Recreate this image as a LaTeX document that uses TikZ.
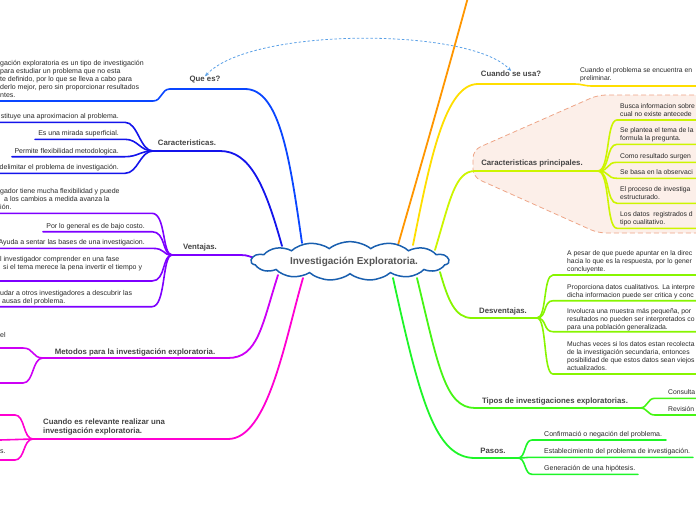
\documentclass[tikz,border=0pt]{standalone}
\usepackage{fontspec}
\setmainfont{Liberation Sans}
\usetikzlibrary{shapes.symbols,arrows.meta}

\definecolor{queblue}{RGB}{10,70,255}
\definecolor{carblue}{RGB}{20,20,235}
\definecolor{venpurple}{RGB}{125,0,255}
\definecolor{metmagenta}{RGB}{205,0,245}
\definecolor{relpink}{RGB}{255,0,210}
\definecolor{orangeline}{RGB}{255,150,0}
\definecolor{useyellow}{RGB}{255,222,0}
\definecolor{prinlime}{RGB}{205,245,0}
\definecolor{deslime}{RGB}{135,245,0}
\definecolor{tipgreen}{RGB}{70,245,20}
\definecolor{pasgreen}{RGB}{30,245,40}
\definecolor{relblue}{RGB}{90,160,230}
\definecolor{cloudblue}{RGB}{25,95,175}
\definecolor{regionfill}{RGB}{252,239,233}
\definecolor{regionline}{RGB}{238,165,135}
\definecolor{leafgray}{RGB}{40,40,40}
\definecolor{labelgray}{RGB}{68,68,68}
\definecolor{titlegray}{RGB}{85,85,85}

\begin{document}
\begin{tikzpicture}[
    x=1pt, y=-1pt,
    branch/.style={
        line width=1.8pt,
        line cap=round
    },
    twig/.style={
        line width=1.6pt,
        line cap=round
    },
    topic/.style={
        font=\fontsize{7.8}{9}\selectfont\bfseries,
        text=labelgray,
        inner sep=0pt,
        align=left
    },
    leaf/.style={
        font=\fontsize{7}{8}\selectfont,
        text=leafgray,
        inner sep=0pt,
        text depth=0pt,
        align=left
    },
    edgeleaf/.style={
        leaf,
        font=\fontsize{6.8}{8}\selectfont
    },
    relation/.style={
        <->,
        >={Stealth[length=4pt,width=3.5pt]},
        draw=relblue,
        line width=0.8pt,
        dash pattern=on 2.5pt off 2pt
    },
    region/.style={
        draw=regionline,
        fill=regionfill,
        line width=0.8pt,
        dash pattern=on 5pt off 3pt,
        rounded corners=8pt
    }
]

% Canvas
\useasboundingbox (0,0) rectangle (696,520);
\clip (0,0) rectangle (696,520);

% Highlight behind the main features
\draw[region] (710,95) -- (598,95) -- (473,150) -- (473,177) -- (598,233) -- (710,233);

% Start points on the cloud and junctions
\coordinate (queS) at (302,243);
\coordinate (queJ) at (170,89);
\coordinate (carS) at (282,246);
\coordinate (carJ) at (153,151);
\coordinate (venS) at (254,258);
\coordinate (venJ) at (172,255);
\coordinate (metS) at (278,275);
\coordinate (metJ) at (43,358);
\coordinate (relS) at (303,278);
\coordinate (relJ) at (33,439);
\coordinate (oraS) at (398,245);
\coordinate (oraE) at (470,-10);
\coordinate (usaS) at (413,245);
\coordinate (usaJ) at (575,84);
\coordinate (prinS) at (435,250);
\coordinate (prinJ) at (598,171);
\coordinate (desS) at (440,272);
\coordinate (desJ) at (537,318);
\coordinate (tipS) at (417,278);
\coordinate (tipJ) at (640,408);
\coordinate (pasS) at (393,278);
\coordinate (pasJ) at (518,458);

% Topics
\node[topic] (queEs) at (205,80) {Que es?};
\node[topic] (caract) at (187,143) {Caracteristicas.};
\node[topic] (ventajas) at (200,247) {Ventajas.};
\node[topic] (metodos) at (135,352) {Metodos para la investigación exploratoria.};
\node[topic, anchor=west] (relevante) at (43,427) {Cuando es relevante realizar una\\investigación exploratoria.};
\node[topic] (cuandoUsa) at (511,74) {Cuando se usa?};
\node[topic] (caractPrin) at (532,163) {Caracteristicas principales.};
\node[topic] (desventajas) at (503,311) {Desventajas.};
\node[topic] (tipos) at (555,401) {Tipos de investigaciones exploratorias.};
\node[topic] (pasos) at (493,451) {Pasos.};

% Que es?
\draw[branch, queblue] (queS) .. controls (290,160) and (280,89) .. (245,89) -- (queJ);
\draw[twig, queblue] (queJ) .. controls (161,89) and (162,101) .. (153,101) -- (0,101);
\node[leaf, anchor=south west] (queTxt) at (0,97.5) {gación exploratoria es un tipo de investigación\\para estudiar un problema que no esta\\te definido, por lo que se lleva a cabo para\\derlo mejor, pero sin proporcionar resultados\\ntes.};

% Caracteristicas
\draw[branch, carblue] (carS) .. controls (265,185) and (250,151) .. (220,151) -- (carJ);
\draw[twig, carblue] (carJ) .. controls (140,151) and (138,122.3) .. (125,122.3) -- (0,122.3);
\draw[twig, carblue] (carJ) .. controls (140,151) and (138,139.3) .. (125,139.3) -- (35,139.3);
\draw[twig, carblue] (carJ) .. controls (140,151) and (138,156.7) .. (125,156.7) -- (12,156.7);
\draw[twig, carblue] (carJ) .. controls (140,151) and (138,173.3) .. (125,173.3) -- (0,173.3);
\node[leaf, anchor=south east] (car1) at (119,118.8) {stituye una aproximacion al problema.};
\node[leaf, anchor=south east] (car2) at (119,135.8) {Es una mirada superficial.};
\node[leaf, anchor=south east] (car3) at (119,153.2) {Permite flexibilidad metodologica.};
\node[leaf, anchor=south east] (car4) at (119,169.8) {delimitar el problema de investigación.};

% Ventajas
\draw[branch, venpurple] (venS) .. controls (246,255) .. (235,255) -- (venJ);
\draw[twig, venpurple] (venJ) .. controls (162,255) and (166,213.3) .. (152,213.3) -- (0,213.3);
\draw[twig, venpurple] (venJ) .. controls (162,255) and (166,231.7) .. (152,231.7) -- (43,231.7);
\draw[twig, venpurple] (venJ) .. controls (162,255) and (166,248.3) .. (152,248.3) -- (0,248.3);
\draw[twig, venpurple] (venJ) .. controls (162,255) and (166,281) .. (152,281) -- (0,281);
\draw[twig, venpurple] (venJ) .. controls (162,255) and (166,306.7) .. (152,306.7) -- (0,306.7);
\node[leaf, anchor=south west] (ven1) at (0,209.8) {gador tiene mucha flexibilidad y puede\\\hspace*{4pt}a los cambios a medida avanza la\\ión.};
\node[leaf, anchor=south east] (ven2) at (145,228.2) {Por lo general es de bajo costo.};
\node[leaf, anchor=south east] (ven3) at (145,244.8) {Ayuda a sentar las bases de una investigacion.};
\node[leaf, anchor=south west] (ven4) at (0,270) {l investigador comprender en una fase\\\hspace*{3pt}si el tema merece la pena invertir el tiempo y};
\node[leaf, anchor=south west] (ven5) at (0,303.2) {udar a otros investigadores a descubrir las\\\hspace*{2pt}ausas del problema.};

% Metodos
\draw[branch, metmagenta] (metS) .. controls (262,325) and (258,358) .. (228,358) -- (metJ);
\draw[twig, metmagenta] (metJ) .. controls (32,358) and (34,348) .. (23,348) -- (0,348);
\draw[twig, metmagenta] (metJ) .. controls (32,358) and (34,383) .. (23,383) -- (0,383);
\node[leaf, anchor=base west] (met1) at (0,337.5) {el};

% Cuando es relevante
\draw[branch, relpink] (relS) .. controls (285,340) and (268,439) .. (228,439) -- (relJ);
\draw[twig, relpink] (relJ) .. controls (23,439) and (25,415) .. (15,415) -- (0,415);
\draw[twig, relpink] (relJ) -- (0,440);
\draw[twig, relpink] (relJ) .. controls (23,439) and (25,460) .. (15,460) -- (0,460);
\node[leaf, anchor=base west] (rel3) at (0,453.5) {s.};

% Orange branch leaving the view
\draw[branch, orangeline] (oraS) .. controls (418,175) and (440,100) .. (oraE);

% Cuando se usa?
\draw[branch, useyellow] (usaS) .. controls (430,160) and (445,84) .. (478,84) -- (usaJ);
\draw[twig, useyellow] (usaJ) .. controls (582,84) and (584,86) .. (592,86) -- (700,86);
\node[edgeleaf, anchor=south west] (usa1) at (580,81) {Cuando el problema se encuentra en\\preliminar.};

% Caracteristicas principales
\draw[branch, prinlime] (prinS) .. controls (450,200) and (455,171) .. (475,171) -- (prinJ);
\foreach \uy in {120,144.3,162.3,178.3,203.3,228.3}
    \draw[twig, prinlime] (prinJ) .. controls (610,171) and (606,\uy) .. (617,\uy) -- (700,\uy);
\node[edgeleaf, anchor=south west] (prin1) at (620,116.5) {Busca informacion sobre\\cual no existe antecede};
\node[edgeleaf, anchor=south west] (prin2) at (620,140.8) {Se plantea el tema de la\\formula la pregunta.};
\node[edgeleaf, anchor=south west] (prin3) at (620,158.8) {Como resultado surgen};
\node[edgeleaf, anchor=south west] (prin4) at (620,174.8) {Se basa en la observaci};
\node[edgeleaf, anchor=south west] (prin5) at (620,199.8) {El proceso de investiga\\estructurado.};
\node[edgeleaf, anchor=south west] (prin6) at (620,224.8) {Los datos\ \ registrados d\\tipo cualitativo.};

% Desventajas
\draw[branch, deslime] (desS) .. controls (448,300) and (455,318) .. (472,318) -- (desJ);
\foreach \uy in {275,300.7,331.7,374}
    \draw[twig, deslime] (desJ) .. controls (547,318) and (543,\uy) .. (553,\uy) -- (700,\uy);
\node[edgeleaf, anchor=south west] (des1) at (567,271.5) {A pesar de que puede apuntar en la direc\\hacia lo que es la respuesta, por lo gener\\concluyente.};
\node[edgeleaf, anchor=south west] (des2) at (567,297.2) {Proporciona datos cualitativos. La interpre\\dicha informacion puede ser critica y conc};
\node[edgeleaf, anchor=south west] (des3) at (567,329.5) {Involucra una muestra más pequeña, por\\resultados no pueden ser interpretados co\\para una población generalizada.};
\node[edgeleaf, anchor=south west] (des4) at (567,371) {Muchas veces si los datos estan recolecta\\de la investigación secundaria, entonces\\posibilidad de que estos datos sean viejos\\actualizados.};

% Tipos de investigaciones
\draw[branch, tipgreen] (tipS) .. controls (438,365) and (445,408) .. (475,408) -- (tipJ);
\draw[twig, tipgreen] (tipJ) .. controls (648,408) and (647,398.3) .. (655,398.3) -- (700,398.3);
\draw[twig, tipgreen] (tipJ) .. controls (648,408) and (647,415) .. (655,415) -- (700,415);
\node[edgeleaf, anchor=south west] (tip1) at (668,394.8) {Consulta};
\node[edgeleaf, anchor=south west] (tip2) at (668,411.5) {Revisión};

% Pasos
\draw[branch, pasgreen] (pasS) .. controls (420,400) and (435,458) .. (475,458) -- (pasJ);
\draw[twig, pasgreen] (pasJ) .. controls (526,458) and (524,440) .. (532,440) -- (666,440);
\draw[twig, pasgreen] (pasJ) .. controls (524,458) and (526,457.3) .. (532,457.3) -- (693,457.3);
\draw[twig, pasgreen] (pasJ) .. controls (526,458) and (524,474.3) .. (532,474.3) -- (638,474.3);
\node[leaf, anchor=south west] (pas1) at (544,436.5) {Confirmació o negación del problema.};
\node[leaf, anchor=south west] (pas2) at (544,453.8) {Establecimiento del problema de investigación.};
\node[leaf, anchor=south west] (pas3) at (544,470.8) {Generación de una hipótesis.};

% Central idea (cloud flattened vertically)
\begin{scope}[shift={(350,261)}, yscale=0.72]
\node[cloud, transform shape, cloud puffs=15, cloud puff arc=100, aspect=5, draw=cloudblue, line width=1.5pt, fill=white, inner sep=1pt, minimum width=198pt, minimum height=40pt, font=\fontsize{10}{12}\selectfont\bfseries] (root) at (0,0) {\phantom{Investigación Exploratoria.}};
\end{scope}
\node[font=\fontsize{10}{12}\selectfont\bfseries, text=titlegray, inner sep=0pt] (rootTxt) at (354,262) {Investigación Exploratoria.};

% Relation between the two questions
\draw[relation] (queEs.north) .. controls (250,27) and (470,27) .. (cuandoUsa.north);

\end{tikzpicture}
\end{document}
